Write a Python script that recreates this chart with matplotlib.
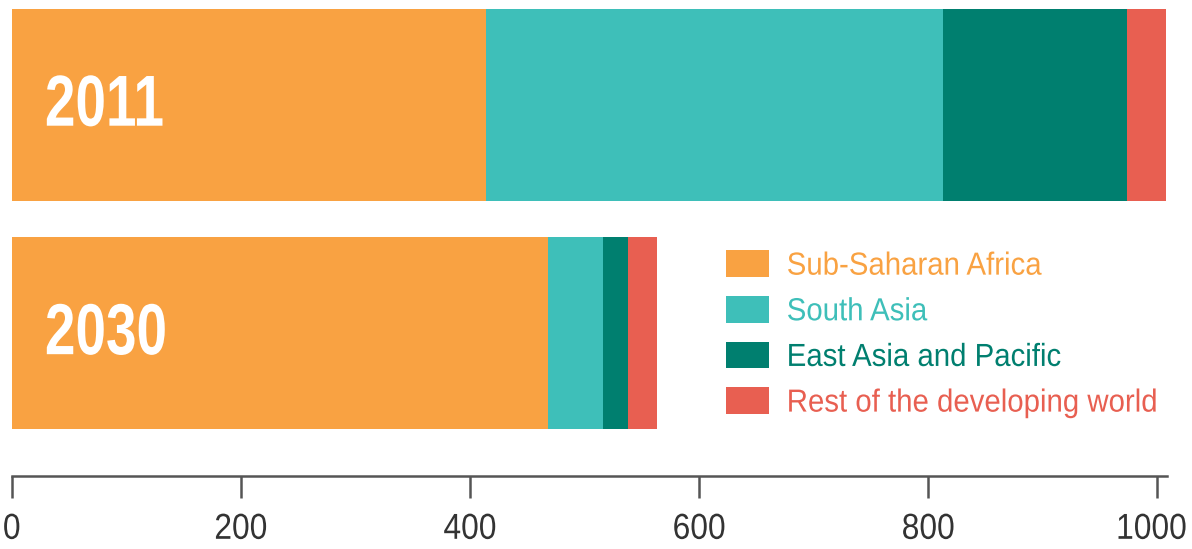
import matplotlib.pyplot as plt
from matplotlib.patches import Patch
from matplotlib.patheffects import AbstractPathEffect
from matplotlib.transforms import Affine2D, ScaledTranslation

# ===================== data =====================
YEARS = ['2011', '2030']
REGIONS = ['Sub-Saharan Africa', 'South Asia', 'East Asia and Pacific',
           'Rest of the developing world']
SSA = [414, 468]
SOUTH_ASIA = [399, 48]
EAST_ASIA = [161, 22]
REST = [34, 25]

COLORS = ['#F9A242', '#3EBFB9', '#007F6F', '#E85F51']
FONT = 'Liberation Sans'


# condensed look: squeeze glyph outlines horizontally
class Squeeze(AbstractPathEffect):
    def __init__(self, sx, anchor='left'):
        super().__init__()
        self.sx = sx
        self.anchor = anchor

    def draw_path(self, renderer, gc, tpath, affine, rgbFace=None):
        if self.anchor == 'center':
            ext = tpath.get_extents()
            cx = (ext.x0 + ext.x1) / 2
        else:
            cx = 0
        t = Affine2D().translate(-cx, 0).scale(self.sx, 1).translate(cx, 0) + affine
        renderer.draw_path(gc, tpath, t, rgbFace)


fig = plt.figure(figsize=(11.92, 5.49), dpi=100)
W, H = 1192, 549
ax = fig.add_axes([11.7 / W, 1 - 475.7 / H, (1167 - 11.7) / W, 475.7 / H])

ypos = [1, 0]  # 2011 on top
series = [SSA, SOUTH_ASIA, EAST_ASIA, REST]
left = [0, 0]
for vals, col in zip(series, COLORS):
    ax.barh(ypos, vals, left=left, height=0.84, color=col, linewidth=0)
    left = [l + v for l, v in zip(left, vals)]

for y, lab in zip(ypos, YEARS):
    ax.text(29, y - 0.008, lab, color='white', fontsize=52, fontweight='bold',
            family=FONT, va='center', ha='left',
            path_effects=[Squeeze(0.76)])

ax.set_xlim(0, 1008.5)
ax.set_ylim(-0.623, 1.459)
ax.set_xticks(range(0, 1001, 200))
ax.set_yticks([])
ax.tick_params(axis='x', length=16, width=1.8, color='#555555', pad=10,
               labelsize=26, labelcolor='#333333')
labels = ax.get_xticklabels()
for t in labels:
    t.set_family(FONT)
    t.set_path_effects([Squeeze(0.88, 'center')])
# last label sits a little left of its tick, as in the original
labels[-1].set_transform(labels[-1].get_transform()
                         + ScaledTranslation(-6 / 100, 0, fig.dpi_scale_trans))
for s in ['top', 'right', 'left']:
    ax.spines[s].set_visible(False)
ax.spines['bottom'].set_color('#555555')
ax.spines['bottom'].set_linewidth(1.8)

handles = [Patch(facecolor=c, edgecolor='none') for c in COLORS]
leg = fig.legend(handles, REGIONS, loc='upper left',
                 bbox_to_anchor=(704 / W, 1 - 228 / H), frameon=False,
                 prop={'family': FONT, 'size': 23},
                 handlelength=1.34, handleheight=0.9, handletextpad=0.55,
                 labelspacing=0.45, borderpad=0.2)
for t, c in zip(leg.get_texts(), COLORS):
    t.set_color(c)
    t.set_path_effects([Squeeze(0.92)])

fig.savefig('out.png', dpi=100)
